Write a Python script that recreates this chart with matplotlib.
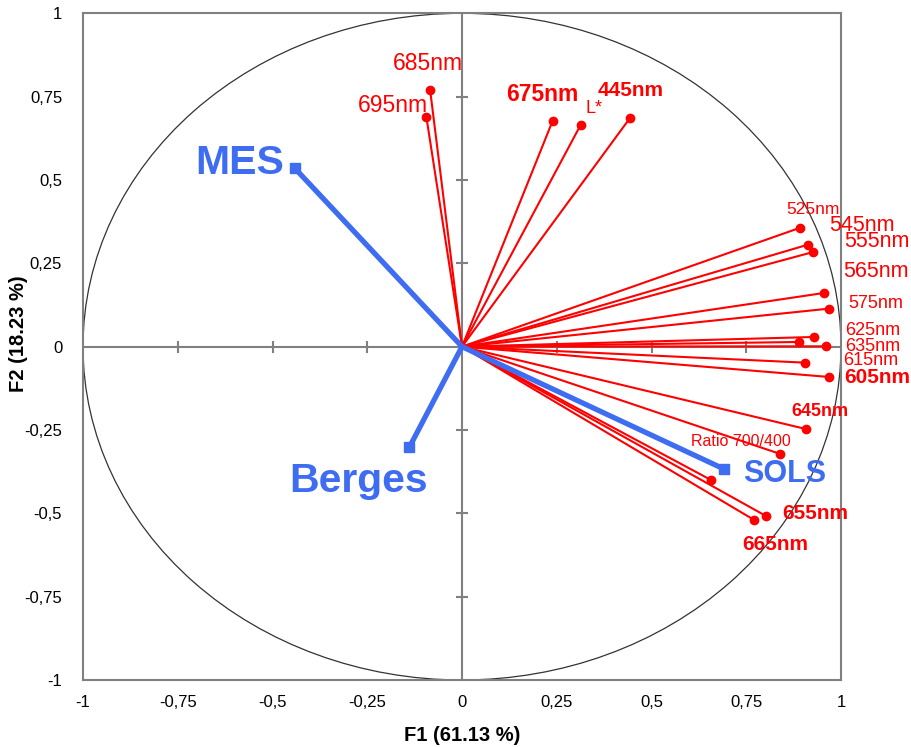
import matplotlib
matplotlib.use('Agg')
import matplotlib.pyplot as plt
from matplotlib.patches import Circle
from matplotlib.ticker import FuncFormatter, FixedLocator

plt.rcParams['font.family'] = ['Liberation Sans', 'DejaVu Sans']
plt.rcParams['axes.unicode_minus'] = False

# ---------------- data ----------------
var_names = ['685nm', '695nm', '675nm', 'L*', '445nm', '525nm', '545nm', '555nm',
             '565nm', '575nm', '625nm', '', '635nm', '615nm', '605nm', '645nm',
             'Ratio 700/400', '', '655nm', '665nm']
var_f1 = [-0.084, -0.094, 0.239, 0.313, 0.444, 0.893, 0.913, 0.927,
          0.955, 0.968, 0.928, 0.888, 0.960, 0.905, 0.969, 0.907,
          0.840, 0.657, 0.802, 0.771]
var_f2 = [0.769, 0.689, 0.677, 0.665, 0.687, 0.357, 0.306, 0.284,
          0.161, 0.114, 0.029, 0.014, 0.001, -0.048, -0.091, -0.247,
          -0.322, -0.400, -0.508, -0.520]

sup_names = ['MES', 'Berges', 'SOLS']
sup_f1 = [-0.441, -0.139, 0.691]
sup_f2 = [0.535, -0.302, -0.367]

tick_values = [-1, -0.75, -0.5, -0.25, 0, 0.25, 0.5, 0.75, 1]
inner_ticks = [-0.75, -0.5, -0.25, 0.25, 0.5, 0.75]
x_title = 'F1 (61.13 %)'
y_title = 'F2 (18.23 %)'

# ---------------- styles (label offsets in pixels, size, weight) ----------------
var_style = [
    (-2, 27, 16.5, 'normal'),   # 685
    (-33, 11, 16.5, 'normal'),  # 695
    (-10, 26, 16.5, 'bold'),    # 675
    (13, 16, 13, 'normal'),     # L*
    (0, 27, 15, 'bold'),        # 445
    (13, 18, 12.5, 'normal'),   # 525
    (54, 19, 15.5, 'normal'),   # 545
    (64, 10, 15.5, 'normal'),   # 555
    (52, 21, 15.5, 'normal'),   # 565
    (47, 5, 13, 'normal'),      # 575
    (59, 6, 13, 'normal'),      # 625
    (0, 0, 10, 'normal'),       # unlabeled
    (47, 0, 13, 'normal'),      # 635
    (66, 2, 13, 'normal'),      # 615
    (48, -1, 15, 'bold'),       # 605
    (14, 17, 13, 'bold'),       # 645
    (-39, 12, 11.5, 'normal'),  # ratio
    (0, 0, 10, 'normal'),       # unlabeled
    (49, 2, 15, 'bold'),        # 655
    (21, -25, 15, 'bold'),      # 665
]
sup_style = [
    (-55, 5, 29.5, 'bold'),
    (-51, -34, 29.5, 'bold'),
    (61, -5, 22, 'bold'),
]

RED = '#FF0000'
BLUE = '#3E6DF2'
GREY = '#808080'
PX = 72.0 / 100.0  # points per pixel

fig = plt.figure(figsize=(9.11, 7.47), dpi=100)
ax = fig.add_axes([83 / 911, 1 - 680 / 747, (841 - 83) / 911, (680 - 13.3) / 747])
ax.set_xlim(-1, 1)
ax.set_ylim(-1, 1)

for s in ax.spines.values():
    s.set_color(GREY)
    s.set_linewidth(1.5)

ax.xaxis.set_major_locator(FixedLocator(tick_values))
ax.yaxis.set_major_locator(FixedLocator(tick_values))
fmt = FuncFormatter(lambda v, p: ('%g' % v).replace('.', ','))
ax.xaxis.set_major_formatter(fmt)
ax.yaxis.set_major_formatter(fmt)
ax.tick_params(axis='both', length=0, labelsize=12, colors='black')
ax.tick_params(axis='x', pad=11)
ax.tick_params(axis='y', pad=15)

# unit circle
ax.add_patch(Circle((0, 0), 1, fill=False, ec='#333333', lw=0.9, zorder=1))

# inner axes
ax.axhline(0, color=GREY, lw=1.5, zorder=1)
ax.axvline(0, color=GREY, lw=1.5, zorder=1)
ax.plot(inner_ticks, [0] * len(inner_ticks), ls='none', marker='|', ms=8.5,
        mew=1.5, color=GREY, zorder=1)
ax.plot([0] * len(inner_ticks), inner_ticks, ls='none', marker='_', ms=8,
        mew=1.5, color=GREY, zorder=1)

# active variables
for name, x, y, st in zip(var_names, var_f1, var_f2, var_style):
    ax.plot([0, x], [0, y], color=RED, lw=1.5, zorder=3)
    ax.plot([x], [y], marker='o', ms=6, color=RED, ls='none', zorder=4)
    if name:
        ax.annotate(name, (x, y), xytext=(st[0] * PX, st[1] * PX),
                    textcoords='offset points', ha='center', va='center',
                    fontsize=st[2], fontweight=st[3], color=RED, zorder=5)

# supplementary variables
for name, x, y, st in zip(sup_names, sup_f1, sup_f2, sup_style):
    ax.plot([0, x], [0, y], color=BLUE, lw=3.8, zorder=6, solid_capstyle='butt')
    ax.plot([x], [y], marker='s', ms=6.5, color=BLUE, ls='none', zorder=6)
    ax.annotate(name, (x, y), xytext=(st[0] * PX, st[1] * PX),
                textcoords='offset points', ha='center', va='center',
                fontsize=st[2], fontweight=st[3], color=BLUE, zorder=7)

ax.set_xlabel(x_title, fontsize=14.5, fontweight='bold', va='center')
ax.set_ylabel(y_title, fontsize=14.5, fontweight='bold', va='center')
ax.xaxis.set_label_coords(0.5, -0.0825)
ax.yaxis.set_label_coords(-0.0845, 0.52)

fig.savefig('out.png', dpi=100)
